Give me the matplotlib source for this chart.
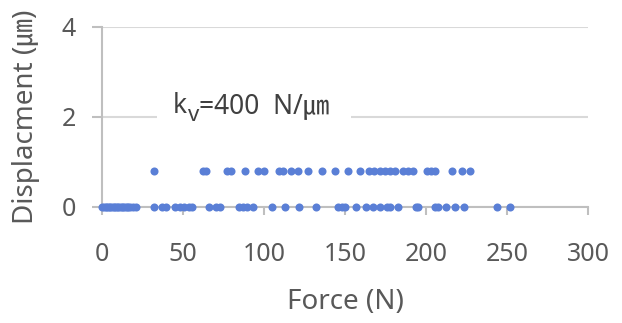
import matplotlib
matplotlib.use("Agg")
import matplotlib.pyplot as plt
from matplotlib.patches import Rectangle
import numpy as np

# ---- data ----
force_at_0 = [0, 1, 2, 3, 4, 5, 6, 7, 8, 9, 10, 11, 12, 13, 14, 15, 16, 17, 19, 21,
              32, 36.6, 39.5, 45.2, 47.7, 50.4, 53.5, 55.5, 65.8, 70.5, 73, 84.3, 86.7,
              89.4, 92.9, 104.6, 112.8, 121.6, 131.9, 145.7, 147.8, 149.8, 156.6, 162.8,
              167.3, 171.4, 175.9, 178, 182.7, 193.6, 195.1, 205.4, 207.4, 212.6, 217.7,
              223.3, 243.5, 252.1]
force_at_08 = [31.9, 62.3, 64, 76.8, 79.3, 88.3, 96.3, 99.8, 109.3, 111.7, 116.5, 121,
               127.2, 135.4, 144, 151.9, 159, 164.8, 167.7, 171.4, 174.9, 178, 180.7,
               185.8, 188.9, 192, 200.6, 203.3, 205.8, 215.7, 222.2, 227.4]
disp_levels = [0.0, 0.8]
x_ticks = [0, 50, 100, 150, 200, 250, 300]
y_ticks = [0, 2, 4]
x_label = "Force (N)"
y_label = "Displacment (\u339b)"
ann_main, ann_sub, ann_rest = "k", "v", "=400  N/\u339b"

fam = ["Noto Sans", "Noto Sans CJK KR", "DejaVu Sans"]
plt.rcParams["font.family"] = fam
txt_col = "#595959"
dot_col = "#5A7FD6"
axis_col = "#bfbfbf"
grid_col = "#d9d9d9"

W, H = 622, 323
fig = plt.figure(figsize=(W / 100, H / 100), dpi=100)
x0, x1 = 102.3, 588.0
y0, y1 = 207.0, 27.0
ax = fig.add_axes([x0 / W, 1 - y0 / H, (x1 - x0) / W, (y0 - y1) / H])

ax.plot(force_at_0, np.full(len(force_at_0), disp_levels[0]), "o", color=dot_col,
        ms=5.8, mec="none", clip_on=False, zorder=5)
ax.plot(force_at_08, np.full(len(force_at_08), disp_levels[1]), "o", color=dot_col,
        ms=5.8, mec="none", clip_on=False, zorder=5)

ax.set_xlim(0, 300)
ax.set_ylim(0, 4)
ax.set_xticks(x_ticks)
ax.set_yticks(y_ticks)
ax.grid(axis="y", color=grid_col, lw=1.5)
ax.set_axisbelow(True)
for s in ["top", "right"]:
    ax.spines[s].set_visible(False)
for s in ["left", "bottom"]:
    ax.spines[s].set_color(axis_col)
    ax.spines[s].set_linewidth(1.5)
ax.tick_params(axis="x", direction="out", length=6, width=1.5, color=axis_col,
               labelsize=18, labelcolor=txt_col, pad=19)
ax.tick_params(axis="y", direction="out", length=7, width=1.5, color=axis_col,
               labelsize=18, labelcolor=txt_col, pad=12)

fig.text(345.8 / W, 1 - 302 / H, x_label, ha="center", va="center",
         fontsize=20, color=txt_col)
fig.text(26 / W, 1 - 117 / H, y_label, ha="center", va="center", rotation=90,
         fontsize=20, color=txt_col)

# white text box of the annotation (hides the grid line behind it)
ax.add_patch(Rectangle((33.8, 1.8), 153.5 - 33.8, 0.95, fc="white", ec="none",
                       zorder=3))
ann_col = "#404040"
t1 = ax.text(43.6, 2.09, ann_main, ha="left", va="baseline", fontsize=19,
             color=ann_col, zorder=6)
t2 = ax.annotate(ann_sub, xy=(1, 0), xycoords=t1, xytext=(0.5, -4.5),
                 textcoords="offset points", ha="left", va="bottom", fontsize=16,
                 color=ann_col, zorder=6)
t3 = ax.annotate(ann_rest, xy=(1, 0), xycoords=(t2, t1), xytext=(0, 0),
                 textcoords="offset points", ha="left", va="bottom", fontsize=19,
                 color=ann_col, zorder=6)

fig.savefig("out.png", dpi=100)
